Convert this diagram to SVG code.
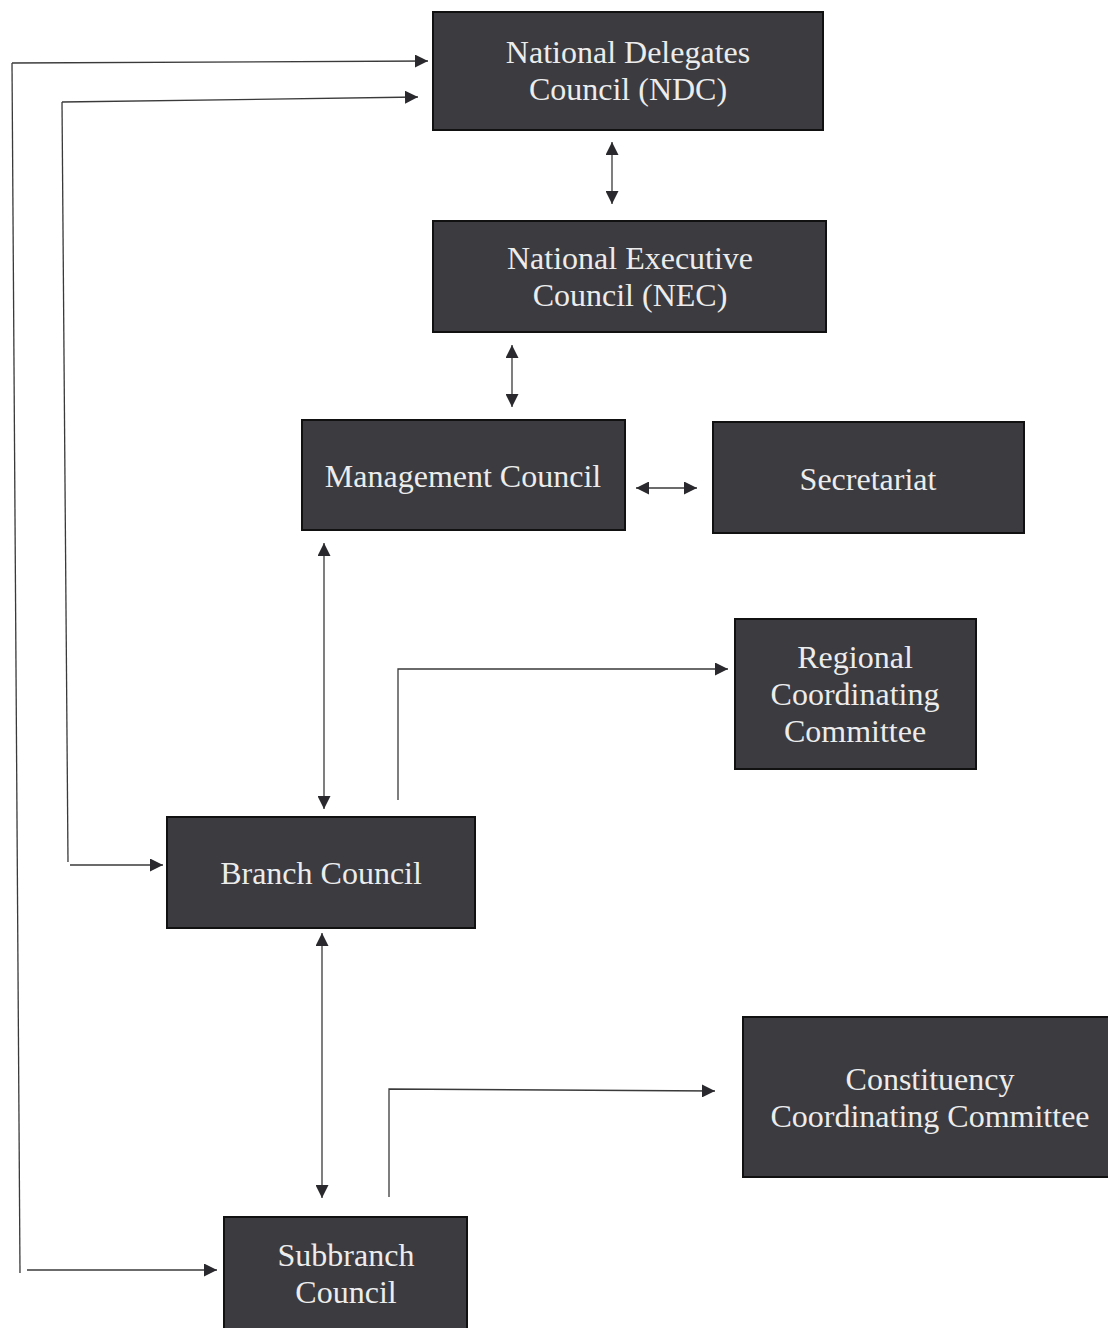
<svg xmlns="http://www.w3.org/2000/svg" width="1108" height="1328" viewBox="0 0 1108 1328">
<defs>
<marker id="ahb" viewBox="0 0 12 12" refX="12" refY="6" markerWidth="13" markerHeight="13" markerUnits="userSpaceOnUse" orient="auto-start-reverse">
<path d="M0,0 L12,6 L0,12 Z" fill="#2a2a2e"/>
</marker>
<style>
.box{fill:#3b3b40;stroke:#111;stroke-width:2}
.lbl{font-family:"Liberation Serif","Times New Roman",serif;font-size:32px;fill:#ececec;text-anchor:middle}
.ln{fill:none;stroke:#3a3a3a;stroke-width:1.3}
</style>
</defs>
<rect width="1108" height="1328" fill="#fff"/>
<g id="connectors">
<path class="ln" d="M12,63 L20,1273"/>
<path class="ln" d="M12,63 L428,61" marker-end="url(#ahb)"/>
<path class="ln" d="M27,1270 L217,1270" marker-end="url(#ahb)"/>
<path class="ln" d="M62,102 L68,862"/>
<path class="ln" d="M62,102 L418,97" marker-end="url(#ahb)"/>
<path class="ln" d="M70,865 L163,865" marker-end="url(#ahb)"/>
<path class="ln" d="M612,142 L612,204" marker-start="url(#ahb)" marker-end="url(#ahb)"/>
<path class="ln" d="M512,345 L512,407" marker-start="url(#ahb)" marker-end="url(#ahb)"/>
<path class="ln" d="M636,488 L697,488" marker-start="url(#ahb)" marker-end="url(#ahb)"/>
<path class="ln" d="M324,543 L324,809" marker-start="url(#ahb)" marker-end="url(#ahb)"/>
<path class="ln" d="M398,800 L398,669 L728,669" marker-end="url(#ahb)"/>
<path class="ln" d="M322,933 L322,1198" marker-start="url(#ahb)" marker-end="url(#ahb)"/>
<path class="ln" d="M389,1197 L389,1089 L715,1091" marker-end="url(#ahb)"/>
</g>
<g id="ndc">
<rect class="box" x="433" y="12" width="390" height="118"/>
<text class="lbl" x="628" y="63">National Delegates</text>
<text class="lbl" x="628" y="100">Council (NDC)</text>
</g>
<g id="nec">
<rect class="box" x="433" y="221" width="393" height="111"/>
<text class="lbl" x="630" y="269">National Executive</text>
<text class="lbl" x="630" y="306">Council (NEC)</text>
</g>
<g id="management">
<rect class="box" x="302" y="420" width="323" height="110"/>
<text class="lbl" x="463" y="487">Management Council</text>
</g>
<g id="secretariat">
<rect class="box" x="713" y="422" width="311" height="111"/>
<text class="lbl" x="868" y="490">Secretariat</text>
</g>
<g id="regional">
<rect class="box" x="735" y="619" width="241" height="150"/>
<text class="lbl" x="855" y="668">Regional</text>
<text class="lbl" x="855" y="705">Coordinating</text>
<text class="lbl" x="855" y="742">Committee</text>
</g>
<g id="branch">
<rect class="box" x="167" y="817" width="308" height="111"/>
<text class="lbl" x="321" y="884">Branch Council</text>
</g>
<g id="constituency">
<rect class="box" x="743" y="1017" width="368" height="160"/>
<text class="lbl" x="930" y="1090">Constituency</text>
<text class="lbl" x="930" y="1127">Coordinating Committee</text>
</g>
<g id="subbranch">
<rect class="box" x="224" y="1217" width="243" height="115"/>
<text class="lbl" x="346" y="1266">Subbranch</text>
<text class="lbl" x="346" y="1303">Council</text>
</g>
</svg>
